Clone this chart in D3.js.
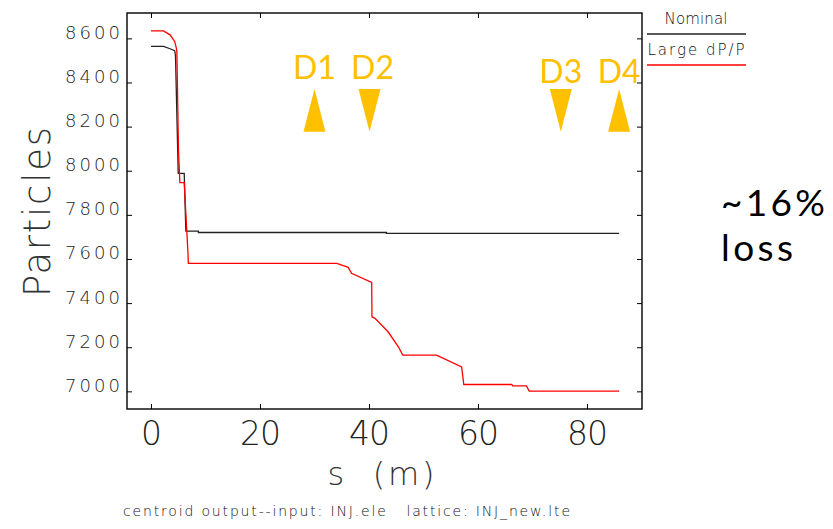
<!DOCTYPE html>
<meta charset="utf-8">
<style>
    body { margin: 0; background: #fff; }
</style>
<svg width="833" height="529"></svg>
<script src="https://cdn.jsdelivr.net/npm/d3@7"></script>
<script>
    // data: s (m) and particle count
    var sNominal = [0, 2.3, 3.5, 4.35, 4.5, 5.0, 6.1, 6.4, 8.7, 8.7, 43.2, 43.2, 85.9];
    var nNominal = [8564, 8564, 8553, 8544, 8520, 7988, 7988, 7726, 7726, 7720, 7720, 7716, 7716];
    var sLarge = [0, 2.3, 3.5, 4.35, 4.65, 4.75, 5.05, 5.3, 6.1, 6.8, 6.85, 34.1, 36.2, 36.8, 40.5, 40.55, 41.1, 43.5, 45.4, 46.2, 52.4, 57.0, 57.4, 66.2, 66.4, 68.9, 69.4, 85.9];
    var nLarge = [8634, 8634, 8616, 8586, 8556, 8540, 8090, 7946, 7946, 7620, 7580, 7580, 7562, 7535, 7494, 7338, 7331, 7270, 7202, 7164, 7164, 7111, 7031, 7031, 7025, 7025, 7001, 7001];
    var xTicks = [0, 20, 40, 60, 80];
    var yTicks = [7000, 7200, 7400, 7600, 7800, 8000, 8200, 8400, 8600];
    var seriesNames = ['Nominal', 'Large dP/P'];
    var seriesColors = ['#222', '#ff0000'];
    // detector markers (s position, pointing direction)
    var markerNames = ['D1', 'D2', 'D3', 'D4'];
    var markerS = [30.0, 40.1, 75.2, 85.9];
    var markerUp = [true, false, false, true];

    var svg = d3.select('svg');
    var hershey = "'DejaVu Sans', sans-serif";
    var calibri = "Lato, 'Open Sans', sans-serif";

    var x = d3.scaleLinear().domain([-4.4, 90.1]).range([127, 642]);
    var y = d3.scaleLinear().domain([6920, 8715]).range([409, 13]);

    // axes, ticks pointing inward
    var bottom = svg.append('g')
        .attr('transform', 'translate(0,409)')
        .call(d3.axisBottom(x).tickValues(xTicks).tickSize(-5).tickFormat(d3.format('d')));
    bottom.selectAll('text')
        .attr('y', 36).attr('dy', 0)
        .attr('font-family', hershey).attr('font-weight', 200)
        .attr('font-size', 33).attr('fill', '#222')
        .attr('textLength', function (d) { return d === 0 ? null : 41; });

    svg.append('g')
        .attr('transform', 'translate(0,13)')
        .call(d3.axisTop(x).tickValues(xTicks).tickSize(-5).tickFormat(''));

    var left = svg.append('g')
        .attr('transform', 'translate(127,0)')
        .call(d3.axisLeft(y).tickValues(yTicks).tickSize(-5).tickPadding(7).tickFormat(d3.format('d')));
    left.selectAll('text')
        .attr('dy', 0)
        .attr('font-family', hershey).attr('font-weight', 200)
        .attr('font-size', 18).attr('fill', '#222')
        .attr('textLength', 55);

    svg.append('g')
        .attr('transform', 'translate(642,0)')
        .call(d3.axisRight(y).tickValues(yTicks).tickSize(-5).tickFormat(''));

    svg.selectAll('.domain').remove();
    svg.selectAll('.tick line').attr('stroke', '#000');

    svg.append('rect')
        .attr('x', x.range()[0]).attr('y', y.range()[1])
        .attr('width', x.range()[1] - x.range()[0])
        .attr('height', y.range()[0] - y.range()[1])
        .attr('fill', 'none').attr('stroke', '#000').attr('stroke-width', 1.4);

    // curves
    var line = d3.line()
        .x(function (d) { return x(d[0]); })
        .y(function (d) { return y(d[1]); });
    var series = [d3.zip(sNominal, nNominal), d3.zip(sLarge, nLarge)];
    svg.selectAll('.curve')
        .data(series)
        .enter()
        .append('path')
        .attr('class', 'curve')
        .attr('fill', 'none')
        .attr('stroke', function (d, i) { return seriesColors[i]; })
        .attr('stroke-width', 1.3)
        .attr('d', line);

    // axis titles
    svg.append('text')
        .attr('transform', 'translate(50,212) rotate(-90)')
        .attr('text-anchor', 'middle')
        .attr('font-family', hershey).attr('font-weight', 200)
        .attr('font-size', 37).attr('fill', '#333')
        .attr('textLength', 170)
        .text('Particles');
    svg.append('text')
        .attr('x', 381).attr('y', 485)
        .attr('text-anchor', 'middle')
        .attr('font-family', hershey).attr('font-weight', 200)
        .attr('font-size', 32).attr('fill', '#333')
        .attr('textLength', 107)
        .style('white-space', 'pre')
        .text('s  (m)');
    svg.append('text')
        .attr('x', 123).attr('y', 516)
        .attr('font-family', hershey).attr('font-weight', 200)
        .attr('font-size', 14).attr('fill', '#111')
        .attr('textLength', 447)
        .style('white-space', 'pre')
        .text('centroid output--input: INJ.ele   lattice: INJ_new.lte');

    // legend
    var legendY = [24, 55];
    var legendW = [63, 97];
    seriesNames.forEach(function (name, i) {
        svg.append('text')
            .attr('x', 696).attr('y', legendY[i])
            .attr('text-anchor', 'middle')
            .attr('font-family', hershey).attr('font-weight', 200)
            .attr('font-size', 15).attr('fill', '#111')
            .attr('textLength', legendW[i])
            .text(name);
        svg.append('line')
            .attr('x1', 647).attr('x2', 746)
            .attr('y1', legendY[i] + 10).attr('y2', legendY[i] + 10)
            .attr('stroke', seriesColors[i]).attr('stroke-width', 1.3);
    });

    // detector markers
    var triHalf = 11;
    var triTop = y(8370), triBot = y(8177);
    markerNames.forEach(function (name, i) {
        var cx = x(markerS[i]);
        var pts = markerUp[i]
            ? [[cx, triTop], [cx - triHalf, triBot], [cx + triHalf, triBot]]
            : [[cx - triHalf, triTop], [cx + triHalf, triTop], [cx, triBot]];
        svg.append('path')
            .attr('d', 'M' + pts.join('L') + 'Z')
            .attr('fill', '#ffc000');
        svg.append('text')
            .attr('x', cx + (i === 1 ? 3 : 0))
            .attr('y', i < 2 ? 79 : 83)
            .attr('text-anchor', 'middle')
            .attr('font-family', calibri)
            .attr('font-size', 32).attr('fill', '#ffc000')
            .text(name);
    });

    // loss note
    svg.append('text')
        .attr('x', 721).attr('y', 216)
        .attr('font-family', calibri).attr('font-size', 37)
        .attr('textLength', 104)
        .text('~16%');
    svg.append('text')
        .attr('x', 721).attr('y', 261)
        .attr('font-family', calibri).attr('font-size', 37)
        .attr('textLength', 72)
        .text('loss');
</script>
